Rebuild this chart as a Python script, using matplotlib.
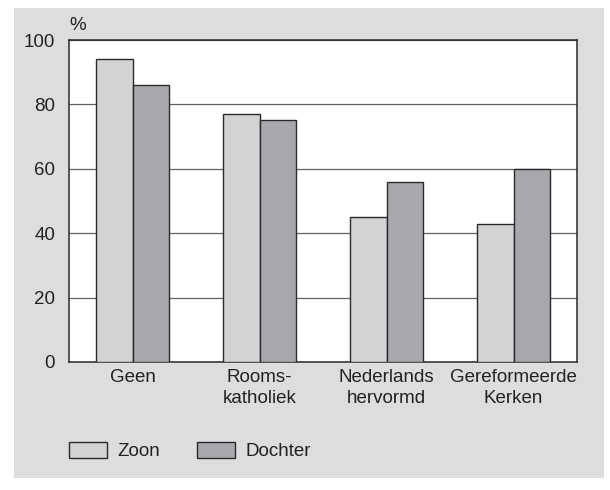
import matplotlib.pyplot as plt
from matplotlib.patches import Rectangle
import numpy as np

plt.rcParams['font.family'] = ['Liberation Sans', 'DejaVu Sans']

# Values (%)
categories = ["Geen", "Rooms-\nkatholiek", "Nederlands\nhervormd", "Gereformeerde\nKerken"]
zoon = [94, 77, 45, 43]
dochter = [86, 75, 56, 60]
yticks = [0, 20, 40, 60, 80, 100]

light = "#d2d3d5"
dark = "#a7a8ab"
panel = "#dcdddf"
edge = "#2a2a2a"
fs = 13.5

fig = plt.figure(figsize=(6.1, 4.9), dpi=100)
fig.patch.set_facecolor("white")
# grey panel behind the chart
fig.patches.append(Rectangle((14 / 610, 12 / 490), 590 / 610, 470 / 490,
                             transform=fig.transFigure, facecolor=panel,
                             edgecolor="none", zorder=-10))

ax = fig.add_axes([69 / 610, 1 - 362 / 490, 508 / 610, 322 / 490])
ax.set_facecolor("white")
ax.set_zorder(1)

x = np.arange(len(categories))
w = 0.287
ax.bar(x - w / 2, zoon, w, color=light, edgecolor=edge, linewidth=1.0,
       label="Zoon", zorder=3)
ax.bar(x + w / 2, dochter, w, color=dark, edgecolor=edge, linewidth=1.0,
       label="Dochter", zorder=3)

ax.set_xlim(-0.5, 3.5)
ax.set_ylim(0, 100)
ax.set_yticks(yticks)
ax.set_xticks(x)
ax.set_xticklabels(categories, fontsize=fs, linespacing=1.35)
ax.tick_params(axis="y", length=0, labelsize=fs, pad=10, colors="#222222")
ax.tick_params(axis="x", length=0, pad=5, colors="#222222")
ax.yaxis.grid(True, color="#606060", linewidth=0.9, zorder=0)
for s in ax.spines.values():
    s.set_color(edge)
    s.set_linewidth(1.1)

ax.text(0.0, 1.02, "%", transform=ax.transAxes, fontsize=fs,
        ha="left", va="bottom", color="#222222")

handles, labels = ax.get_legend_handles_labels()
fig.legend(handles, labels, loc="center left",
           bbox_to_anchor=(69 / 610, 1 - 451 / 490), frameon=False,
           borderpad=0, borderaxespad=0, ncol=2, fontsize=fs,
           handlelength=2.0, handleheight=0.95, handletextpad=0.6,
           columnspacing=1.95, labelcolor="#222222")

fig.savefig("out.png", dpi=100)
